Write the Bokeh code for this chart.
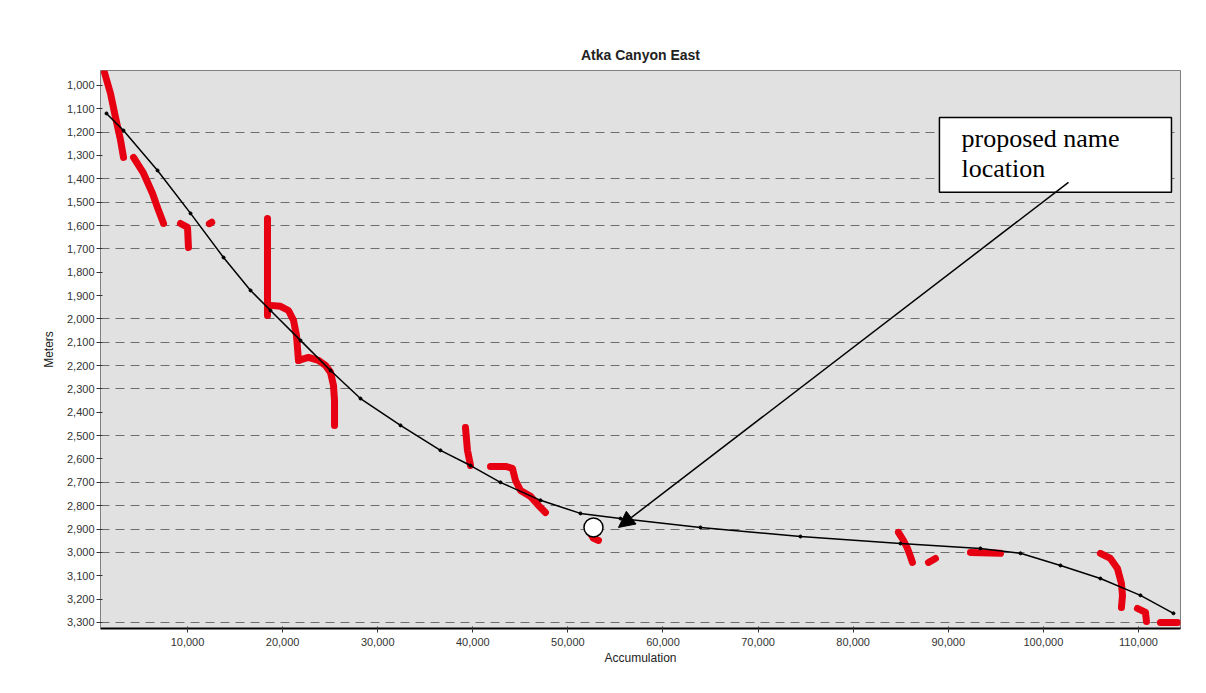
from bokeh.plotting import figure
from bokeh.models import (Range1d, FixedTicker, NumeralTickFormatter, BoxAnnotation,
                          Label, Arrow, NormalHead)
from bokeh.embed import file_html
from bokeh.resources import INLINE

title_text = "Atka Canyon East"
x_label = "Accumulation"
y_label = "Meters"
x_ticks = [10000, 20000, 30000, 40000, 50000, 60000, 70000, 80000, 90000, 100000, 110000]
y_ticks = list(range(1000, 3301, 100))
grid_depths = [1200, 1400, 1500, 1600, 1700, 2000, 2100, 2200, 2300, 2500, 2700, 2800, 2900, 3000, 3300]

# fitted profile (black line)
fit_x = [1480, 3270, 6850, 10320, 13790, 16630, 18730, 21880, 25040, 28190, 32400, 36600, 39760,
         42910, 47120, 51320, 55530, 63940, 74460, 84970, 93380, 97590, 101800, 106000, 110210, 113680]
fit_y = [1120, 1193, 1364, 1548, 1737, 1878, 1964, 2092, 2221, 2341, 2456, 2563, 2628,
         2700, 2777, 2833, 2855, 2893, 2932, 2962, 2983, 3004, 3056, 3112, 3184, 3261]

# sounding segments (red)
red_x = [
    [1270, 1900, 2430, 2960, 3270],
    [4320, 5370, 6320, 6950, 7480],
    [9260, 10000, 10100],
    [12300, 12550],
    [18410, 18410],
    [18730, 19780, 20620, 21150, 21460, 21670],
    [21670, 22720, 23770, 24510, 25040, 25350, 25460, 25460],
    [39230, 39440, 39760],
    [41860, 43440, 44170, 44490, 45020, 46070, 46910, 47640],
    [52170, 52690, 53220],
    [84760, 85290, 85710, 86020, 86230],
    [87920, 88650],
    [92330, 95490],
    [106000, 107050, 107790, 108210, 108320, 108210],
    [109890, 110740, 110840],
    [112310, 114100],
]
red_y = [
    [945, 1034, 1137, 1235, 1308],
    [1308, 1376, 1463, 1535, 1591],
    [1591, 1608, 1694],
    [1592, 1586],
    [1570, 1985],
    [1942, 1946, 1964, 2006, 2071, 2178],
    [2178, 2165, 2178, 2199, 2229, 2285, 2349, 2456],
    [2465, 2563, 2628],
    [2632, 2632, 2640, 2692, 2735, 2760, 2799, 2829],
    [2906, 2940, 2949],
    [2914, 2949, 2983, 3017, 3043],
    [3043, 3026],
    [3000, 3004],
    [3004, 3026, 3069, 3133, 3184, 3236],
    [3240, 3257, 3296],
    [3300, 3300],
]

note_text = ["proposed name", "location"]
note_box = dict(left=89070, right=113470, top=1137, bottom=1458)
note_text_x = 91390
note_text_y = [1227, 1355]
arrow_from = (102640, 1415)
arrow_to = (55320, 2893)
site = (52690, 2893)

p = figure(width=1198, height=685,
           x_range=Range1d(850, 114420), y_range=Range1d(3326, 936),
           output_backend="svg", toolbar_location=None,
           min_border_left=100, min_border_right=18, min_border_top=70, min_border_bottom=57)

p.background_fill_color = "#e1e1e1"
p.border_fill_color = "white"
p.outline_line_color = "#808080"
p.outline_line_width = 1

p.title.text = title_text
p.title.align = "center"
p.title.offset = -29
p.title.standoff = 16
p.title.text_font = "Liberation Sans"
p.title.text_font_size = "14px"
p.title.text_font_style = "bold"
p.title.text_color = "#222222"

p.xgrid.visible = False
p.ygrid.ticker = FixedTicker(ticks=grid_depths)
p.ygrid.grid_line_color = "#6e6e6e"
p.ygrid.grid_line_dash = "9 6"
p.ygrid.grid_line_width = 1

p.xaxis.ticker = FixedTicker(ticks=x_ticks)
p.yaxis.ticker = FixedTicker(ticks=y_ticks)
for ax in (p.xaxis[0], p.yaxis[0]):
    ax.formatter = NumeralTickFormatter(format="0,0")
    ax.major_label_text_font = "Liberation Sans"
    ax.major_label_text_font_size = "11px"
    ax.major_label_text_color = "#333333"
    ax.axis_label_text_font = "Liberation Sans"
    ax.axis_label_text_font_size = "12px"
    ax.axis_label_text_font_style = "normal"
    ax.axis_label_text_color = "#222222"
    ax.minor_tick_line_color = None
    ax.major_tick_in = 2
    ax.major_tick_out = 4
    ax.major_tick_line_color = "#333333"
p.xaxis.axis_label = x_label
p.yaxis.axis_label = y_label
p.xaxis.axis_line_color = "black"
p.xaxis.axis_line_width = 2
p.yaxis.axis_line_color = "#808080"
p.xaxis.major_label_standoff = 5
p.xaxis.axis_label_standoff = 2
p.yaxis.major_label_standoff = 2
p.yaxis.axis_label_standoff = 8

p.multi_line(red_x, red_y, line_color="#e60012", line_width=7, line_cap="round", line_join="round")
p.line(fit_x, fit_y, line_color="black", line_width=1.5)
p.scatter(fit_x, fit_y, size=3, color="black")

p.add_layout(BoxAnnotation(left=note_box["left"], right=note_box["right"],
                           top=note_box["top"], bottom=note_box["bottom"],
                           fill_color="white", fill_alpha=1.0,
                           line_color="black", line_alpha=1.0, line_width=1.5))
for t, ty in zip(note_text, note_text_y):
    p.add_layout(Label(x=note_text_x, y=ty, text=t, text_font="Liberation Serif",
                       text_font_size="26px", text_color="black", text_baseline="alphabetic"))

p.add_layout(Arrow(x_start=arrow_from[0], y_start=arrow_from[1], x_end=arrow_to[0], y_end=arrow_to[1],
                   line_color="black", line_width=1.5,
                   end=NormalHead(size=16, fill_color="black", line_color="black")))
p.scatter([site[0]], [site[1]], size=19, fill_color="white", line_color="black", line_width=1.5)

open("out.html", "w").write(file_html(p, INLINE))
